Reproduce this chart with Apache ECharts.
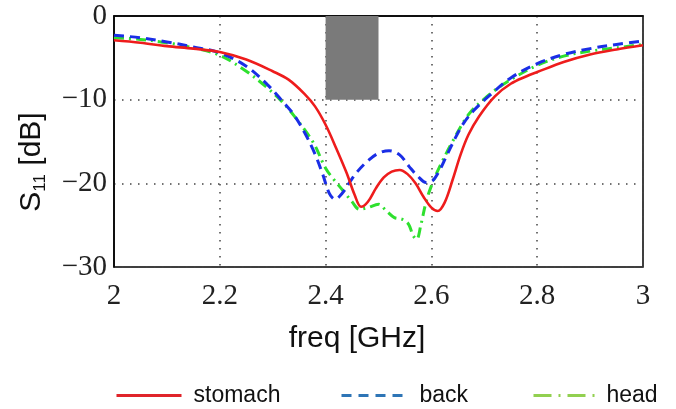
<!DOCTYPE html>
<html>
<head>
<meta charset="utf-8">
<script src="https://cdn.jsdelivr.net/npm/echarts@6/dist/echarts.min.js"></script>
<style>html,body{margin:0;padding:0;background:#fff;}#c{width:676px;height:409px;}</style>
</head>
<body>
<div id="c"></div>
<script>
// ---- data ----
var seriesNames = ['stomach', 'back', 'head'];
var freqStomach = [2.00,2.05,2.10,2.15,2.20,2.25,2.30,2.33,2.36,2.38,2.40,2.42,2.44,2.455,2.467,2.48,2.495,2.51,2.525,2.54,2.555,2.57,2.585,2.60,2.612,2.625,2.64,2.655,2.67,2.69,2.72,2.75,2.78,2.80,2.85,2.90,2.95,3.00];
var s11Stomach  = [-2.9,-3.2,-3.6,-3.9,-4.3,-5.2,-6.6,-7.6,-9.3,-10.8,-13.0,-15.8,-18.8,-21.4,-22.8,-22.2,-20.6,-19.3,-18.6,-18.4,-18.9,-20.0,-21.6,-22.9,-23.3,-22.3,-19.6,-16.6,-14.2,-12.0,-9.6,-8.1,-7.2,-6.7,-5.5,-4.6,-4.0,-3.5];
var freqBack = [2.00,2.05,2.10,2.15,2.20,2.25,2.29,2.32,2.34,2.36,2.38,2.395,2.407,2.418,2.43,2.445,2.46,2.48,2.50,2.52,2.54,2.558,2.575,2.59,2.602,2.615,2.628,2.645,2.66,2.68,2.71,2.75,2.80,2.85,2.90,2.95,3.00];
var s11Back  = [-2.3,-2.6,-3.1,-3.7,-4.4,-6.0,-8.2,-10.3,-11.8,-13.9,-16.5,-19.0,-21.2,-21.9,-21.3,-19.9,-18.6,-17.3,-16.4,-16.1,-16.6,-18.0,-19.2,-19.9,-19.7,-18.5,-16.8,-14.6,-12.9,-11.3,-9.5,-7.4,-5.7,-4.6,-3.9,-3.4,-3.0];
var freqHead = [2.00,2.05,2.10,2.15,2.20,2.25,2.29,2.32,2.345,2.365,2.38,2.40,2.415,2.432,2.45,2.464,2.48,2.50,2.515,2.53,2.545,2.557,2.565,2.572,2.58,2.59,2.60,2.615,2.64,2.67,2.70,2.74,2.80,2.85,2.90,2.95,3.00];
var s11Head  = [-2.6,-2.8,-3.2,-3.8,-4.7,-6.6,-8.6,-10.4,-12.3,-14.0,-15.5,-18.2,-19.5,-20.8,-22.2,-23.1,-22.9,-22.5,-23.3,-24.1,-24.3,-24.9,-26.2,-26.7,-25.0,-22.2,-20.3,-18.1,-15.0,-11.8,-9.9,-8.0,-5.9,-4.8,-4.2,-3.8,-3.4];
var bandFreq = [2.4, 2.5];   // shaded band (GHz)
var bandS11  = [-10, 0];      // shaded band (dB)
var xTicks = [2, 2.2, 2.4, 2.6, 2.8, 3];
var yTicks = [-30, -20, -10, 0];
var xAxisName = 'freq [GHz]';

function zip(a, b) { return a.map(function (v, i) { return [v, b[i]]; }); }

var chart = echarts.init(document.getElementById('c'), null, {renderer: 'canvas'});
var legendFont = {fontFamily: '"Liberation Sans", Arial, sans-serif', fontSize: 23, color: '#111'};
var serif = '"Liberation Serif", "Times New Roman", serif';
var option = {
  animation: false,
  backgroundColor: '#fff',
  grid: {left: 114, right: 33, top: 16, bottom: 142, show: true, borderColor: '#000', borderWidth: 1.5, backgroundColor: 'transparent'},
  xAxis: {
    type: 'value', min: xTicks[0], max: xTicks[xTicks.length - 1], interval: 0.2,
    axisLine: {show: true, lineStyle: {color: '#000', width: 1.5}},
    axisTick: {show: false},
    axisLabel: {fontFamily: serif, fontSize: 29, color: '#222', margin: 15,
      formatter: function (v) { return String(Math.round(v * 10) / 10); }},
    splitLine: {show: true, lineStyle: {type: [1.5, 6.5], color: '#444', width: 1.5}}
  },
  yAxis: {
    type: 'value', min: yTicks[0], max: yTicks[yTicks.length - 1], interval: 10,
    axisLine: {show: true, lineStyle: {color: '#000', width: 1.5}},
    axisTick: {show: false},
    axisLabel: {fontFamily: serif, fontSize: 29, color: '#222', margin: 7,
      formatter: function (v) { return String(v).replace('-', '\u2212'); }},
    splitLine: {show: true, lineStyle: {type: [1.5, 6.5], color: '#444', width: 1.5}}
  },
  legend: [
    {left: 110, top: 379, itemWidth: 65, itemHeight: 14, textStyle: Object.assign({padding: [0, 0, 0, 7]}, legendFont),
     data: [{name: seriesNames[0], lineStyle: {color: '#e0242a', width: 3, type: 'solid'}, itemStyle: {opacity: 0}}]},
    {left: 335, top: 379, itemWidth: 62, itemHeight: 14, textStyle: Object.assign({padding: [0, 0, 0, 11]}, legendFont),
     data: [{name: seriesNames[1], lineStyle: {color: '#2e75b6', width: 3, type: [10, 7]}, itemStyle: {opacity: 0}}]},
    {left: 527, top: 379, itemWidth: 65, itemHeight: 14, textStyle: Object.assign({padding: [0, 0, 0, 3]}, legendFont),
     data: [{name: seriesNames[2], lineStyle: {color: '#92d050', width: 3, type: [18, 7, 2, 7]}, itemStyle: {opacity: 0}}]}
  ],
  graphic: [
    {type: 'text', x: 357, y: 339,
     style: {text: xAxisName, fill: '#111', font: '30px "Liberation Sans"', textAlign: 'center', textVerticalAlign: 'middle'}},
    {type: 'text', x: 32, y: 162, rotation: Math.PI / 2,
     style: {text: '{s|S}{sub|11}{s| [dB]}', fill: '#111', textAlign: 'center', textVerticalAlign: 'middle',
       rich: {s: {fontFamily: 'Liberation Sans', fontSize: 30, lineHeight: 34, fill: '#111'},
              sub: {fontFamily: 'Liberation Sans', fontSize: 17, lineHeight: 17, verticalAlign: 'bottom', fill: '#111'}}}}
  ],
  series: [
    {name: seriesNames[0], type: 'line', data: zip(freqStomach, s11Stomach), smooth: 0.35, symbol: 'none', z: 5,
     lineStyle: {color: '#ee1c1c', width: 2.6},
     itemStyle: {color: '#ee1c1c'},
     markArea: {silent: true, itemStyle: {color: '#7a7a7a', opacity: 1},
       data: [[{coord: [bandFreq[0], bandS11[1]]}, {coord: [bandFreq[1], bandS11[0]]}]]}},
    {name: seriesNames[1], type: 'line', data: zip(freqBack, s11Back), smooth: 0.35, symbol: 'none', z: 4,
     lineStyle: {color: '#1a2ee6', width: 3, type: [10, 6]},
     itemStyle: {color: '#1a2ee6'}},
    {name: seriesNames[2], type: 'line', data: zip(freqHead, s11Head), smooth: 0.35, symbol: 'none', z: 3,
     lineStyle: {color: '#2ee02e', width: 3, type: [10, 5, 2, 5]},
     itemStyle: {color: '#2ee02e'}}
  ]
};
chart.setOption(option);
</script>
</body>
</html>
